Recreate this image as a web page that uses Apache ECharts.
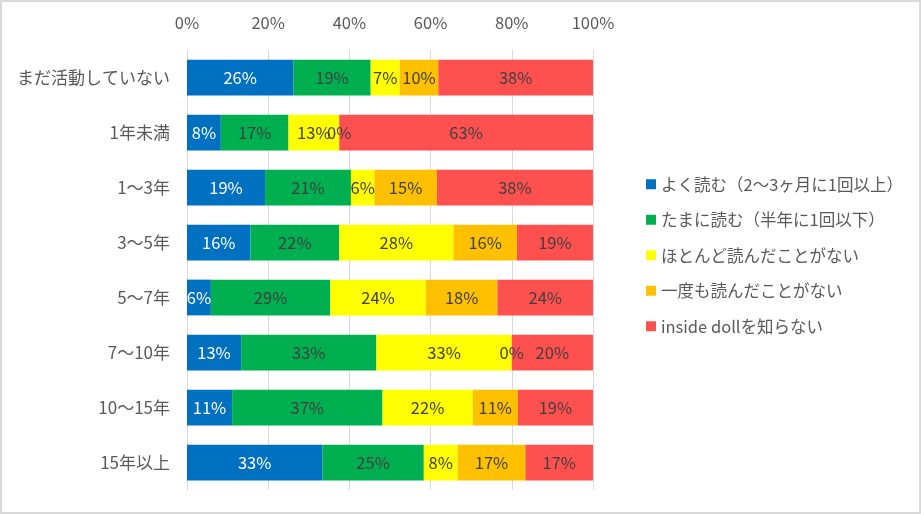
<!DOCTYPE html>
<html>
<head>
<meta charset="utf-8">
<script src="https://cdn.jsdelivr.net/npm/echarts@6/dist/echarts.min.js"></script>
<style>
  html, body { margin: 0; padding: 0; background: #fff; }
  .frame {
    width: 921px;
    height: 514px;
    box-sizing: border-box;
    border: 2px solid #d9d9d9;
  }
  #chart { width: 917px; height: 510px; }
</style>
</head>
<body>
<div class="frame"><div id="chart"></div></div>
<script>
// 経歴ごとの回答割合（%）
var categories = ['まだ活動していない', '1年未満', '1～3年', '3～5年', '5～7年', '7～10年', '10～15年', '15年以上'];
var seriesNames = ['よく読む（2～3ヶ月に1回以上）', 'たまに読む（半年に1回以下）', 'ほとんど読んだことがない', '一度も読んだことがない', 'inside dollを知らない'];
var oftenRead   = [26.19, 8.33, 19.23, 15.63, 5.88, 13.33, 11.11, 33.33];
var sometimes   = [19.05, 16.67, 21.15, 21.87, 29.41, 33.33, 37.04, 25.00];
var rarely      = [7.14, 12.50, 5.77, 28.13, 23.53, 33.33, 22.22, 8.33];
var never       = [9.52, 0, 15.38, 15.62, 17.65, 0, 11.11, 16.67];
var dontKnow    = [38.10, 62.50, 38.46, 18.75, 23.53, 20.00, 18.52, 16.67];
var xTicks = [0, 20, 40, 60, 80, 100];

var colors = ['#0070C0', '#00B050', '#FFFF00', '#FFC000', '#FF5050'];
var values = [oftenRead, sometimes, rarely, never, dontKnow];
var font = '"Noto Sans CJK JP", "Noto Sans", sans-serif';

var mychart = echarts.init(document.getElementById('chart'));
var option = {
    backgroundColor: '#fff',
    animation: false,
    color: colors,
    textStyle: { fontFamily: font },
    grid: {
        left: 185,
        right: 326,
        top: 48,
        bottom: 22,
        containLabel: false
    },
    legend: {
        orient: 'vertical',
        left: 644,
        top: 174,
        padding: 0,
        itemWidth: 10,
        itemHeight: 10,
        itemGap: 19,
        icon: 'rect',
        textStyle: { fontSize: 16.5, color: '#595959', fontFamily: font },
        data: seriesNames
    },
    xAxis: {
        type: 'value',
        position: 'top',
        min: xTicks[0],
        max: xTicks[xTicks.length - 1],
        interval: 20,
        axisLine: { show: false },
        axisTick: { show: false },
        axisLabel: {
            margin: 19,
            fontSize: 16.5,
            color: '#595959',
            formatter: '{value}%'
        },
        splitLine: { lineStyle: { color: '#d9d9d9', width: 1 } }
    },
    yAxis: {
        type: 'category',
        inverse: true,
        data: categories,
        axisLine: { show: true, lineStyle: { color: '#d9d9d9' } },
        axisTick: { show: false },
        axisLabel: { margin: 17, fontSize: 17, color: '#595959' }
    },
    series: []
};

for (var i = 0; i < seriesNames.length; i++) {
    option.series.push({
        name: seriesNames[i],
        type: 'bar',
        stack: 'total',
        barCategoryGap: '35%',
        data: values[i],
        label: {
            show: true,
            position: 'inside',
            fontSize: 16.5,
            color: i === 0 ? '#ffffff' : '#404040',
            formatter: function (p) { return Math.round(p.value) + '%'; }
        }
    });
}

mychart.setOption(option);
</script>
</body>
</html>
